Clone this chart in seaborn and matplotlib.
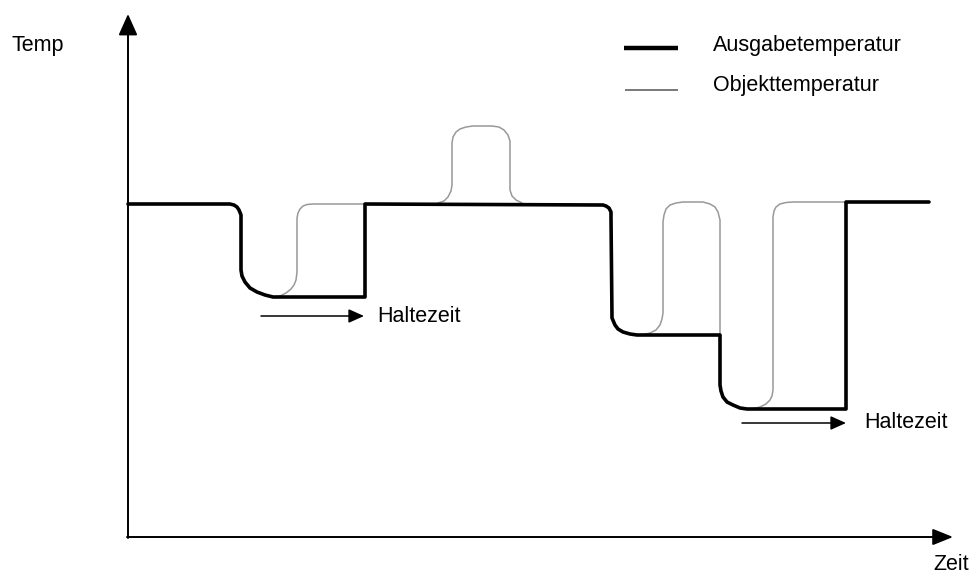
import matplotlib
matplotlib.use("Agg")
import matplotlib.pyplot as plt
from matplotlib import font_manager
import seaborn as sns

# Ausgabetemperatur (Sollwert), Punkte (Pixel)
ausgabe_x = [128, 230, 234, 237, 239, 241, 241, 242, 245, 250, 257, 265, 273, 365, 365,
             603, 606, 609, 611, 611, 612, 615, 618, 623, 630, 637, 720, 720,
             721, 723, 727, 733, 740, 747, 846, 846, 929]
ausgabe_y = [204, 204, 205, 207, 210, 215, 270, 276, 282, 288, 292, 295, 297, 297, 204,
             205, 206, 208, 212, 218, 318, 325, 329, 332, 334, 335, 335, 385,
             391, 397, 402, 405, 408, 409, 409, 202, 202]

# Objekttemperatur, nur die Abschnitte die vom Sollwert abweichen
objekt_1_x = [273, 280, 286, 291, 294, 296, 297, 297, 298, 300, 303, 307, 313, 365]
objekt_1_y = [297, 296, 293, 289, 285, 280, 272, 218, 213, 209, 206, 204.5, 204, 204]
objekt_2_x = [438, 444, 448, 451, 452, 452, 453, 456, 460, 466, 473, 492, 499,
              504, 508, 510, 510, 512, 516, 522]
objekt_2_y = [203, 201, 197, 191, 185, 143, 137, 132, 129, 127, 126, 126, 127,
              130, 135, 141, 190, 196, 200, 203]
objekt_3_x = [637, 644, 650, 656, 660, 662, 663, 663, 664, 666, 670, 676, 683,
              703, 710, 715, 718, 720, 720]
objekt_3_y = [335, 334.5, 333, 330, 325, 319, 313, 222, 215, 209, 205, 203, 202,
              202, 204, 207, 212, 220, 335]
objekt_4_x = [747, 754, 760, 766, 770, 772, 773, 773, 774, 776, 780, 786, 793, 846]
objekt_4_y = [409, 408.5, 407, 404, 400, 396, 390, 217, 211, 207, 204, 202.5, 202, 202]

legend_labels = ["Ausgabetemperatur", "Objekttemperatur"]
axis_labels = ["Temp", "Zeit"]
hold_label = "Haltezeit"

sns.set_style("white")
installed = {f.name for f in font_manager.fontManager.ttflist}
if "Liberation Sans Narrow" in installed:
    plt.rcParams["font.family"] = ["Liberation Sans Narrow", "DejaVu Sans"]
    fs = 18.5
else:
    plt.rcParams["font.family"] = ["Liberation Sans", "DejaVu Sans"]
    fs = 15.5
plt.rcParams["text.color"] = "black"

fig = plt.figure(figsize=(9.71, 5.79), dpi=100)
ax = fig.add_axes([0, 0, 1, 1])

gray = "#999999"
for xs, ys in [(objekt_1_x, objekt_1_y), (objekt_2_x, objekt_2_y),
               (objekt_3_x, objekt_3_y), (objekt_4_x, objekt_4_y)]:
    sns.lineplot(x=xs, y=ys, sort=False, estimator=None, ax=ax,
                 color=gray, linewidth=1.1, zorder=2)
sns.lineplot(x=ausgabe_x, y=ausgabe_y, sort=False, estimator=None, ax=ax,
             color="black", linewidth=2.6, zorder=3)

ax.set_xlim(0, 971)
ax.set_ylim(579, 0)
ax.axis("off")

# Achsen mit Pfeilspitzen
vert = dict(arrowstyle="-|>,head_length=0.65,head_width=0.29", color="black",
            lw=1.4, mutation_scale=20, shrinkA=0, shrinkB=0)
horz = dict(arrowstyle="-|>,head_length=0.62,head_width=0.25", color="black",
            lw=1.4, mutation_scale=20, shrinkA=0, shrinkB=0)
ax.annotate("", xy=(128, 14), xytext=(128, 538), arrowprops=vert)
ax.annotate("", xy=(953, 537), xytext=(127, 537), arrowprops=horz)

# Haltezeit-Pfeile
small = dict(arrowstyle="-|>,head_length=0.67,head_width=0.3", color="black",
             lw=1.1, mutation_scale=14, shrinkA=0, shrinkB=0)
ax.annotate("", xy=(364, 316), xytext=(261, 316), arrowprops=small)
ax.annotate("", xy=(846, 423), xytext=(742, 423), arrowprops=small)
ax.text(377, 316, hold_label, fontsize=fs, va="center", ha="left")
ax.text(864, 423, hold_label, fontsize=fs, va="center", ha="left")

ax.text(11, 45, axis_labels[0], fontsize=fs, va="center", ha="left")
ax.text(969, 565, axis_labels[1], fontsize=fs, va="center", ha="right")

# Legende
ax.plot([624, 678], [48, 48], color="black", linewidth=3.2, solid_capstyle="butt")
ax.plot([625, 678], [90, 90], color="#555555", linewidth=1.1, solid_capstyle="butt")
ax.text(713, 46, legend_labels[0], fontsize=fs, va="center", ha="left")
ax.text(713, 86, legend_labels[1], fontsize=fs, va="center", ha="left")

fig.savefig("out.png", dpi=100, facecolor="white")
